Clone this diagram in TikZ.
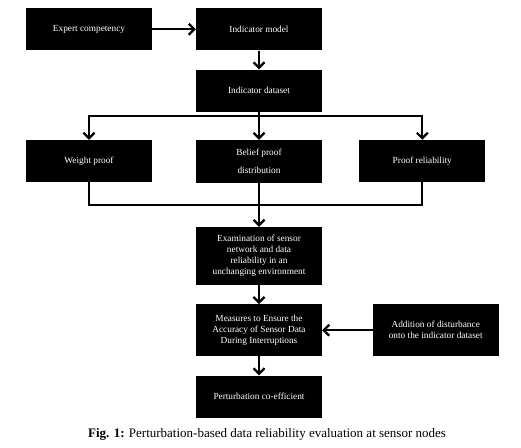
\documentclass[tikz,border=0pt]{standalone}
\usepackage{fontspec}
\setmainfont{Liberation Serif}
\usetikzlibrary{arrows.meta,positioning}
\begin{document}
\begin{tikzpicture}[x=1pt,y=1pt,
  box/.style={fill=black,text=white,minimum width=126pt,minimum height=42pt,inner sep=0pt,align=center,font=\fontsize{9.3}{11}\selectfont},
  conn/.style={line width=2.2pt,line join=miter},
  arr/.style={conn,-{Straight Barb[length=5.5pt,width=11pt,line width=2.2pt]}}]
\useasboundingbox (0,0) rectangle (521,-447);
\node[box] (expert) at (89,-29.3) {Expert competency};
\node[box] (model) at (259,-29.3) {Indicator model};
\node[box] (dataset) at (259,-90.5) {Indicator dataset};
\node[box] (weight) at (89,-161) {Weight proof};
\node[box,minimum height=43pt,font=\fontsize{9.3}{18}\selectfont] (belief) at (259,-161.5) {Belief proof\\distribution};
\node[box] (reliab) at (422.3,-161) {Proof reliability};
\node[box,minimum height=58pt] (exam) at (259,-256) {Examination of sensor\\network and data\\reliability in an\\unchanging environment};
\node[box,minimum height=52pt] (measures) at (259,-330.2) {Measures to Ensure the\\Accuracy of Sensor Data\\During Interruptions};
\node[box,minimum height=52pt] (addition) at (435.7,-330.2) {Addition of disturbance\\onto the indicator dataset};
\node[box] (pert) at (259,-396.5) {Perturbation co-efficient};
\node[font=\fontsize{13}{15}\selectfont,inner sep=0pt] (caption) at (267,-434.3) {\textbf{Fig. 1:} Perturbation-based data reliability evaluation at sensor nodes};
\coordinate (split) at (259,-116);
\coordinate (merge) at (259,-205);
\draw[arr] (expert) -- (model);
\draw[arr] (model) -- (dataset);
\draw[conn] (dataset.south) -- (split);
\draw[arr] (split) -| (weight.north);
\draw[arr] (split) -- (belief.north);
\draw[arr] (split) -| (reliab.north);
\draw[conn] (weight.south) |- (merge);
\draw[conn] (reliab.south) |- (merge);
\draw[conn] (belief.south) -- (merge);
\draw[arr] (merge) -- (exam.north);
\draw[arr] (exam) -- (measures);
\draw[arr] (addition) -- (measures);
\draw[arr] (measures) -- (pert);
\end{tikzpicture}
\end{document}
